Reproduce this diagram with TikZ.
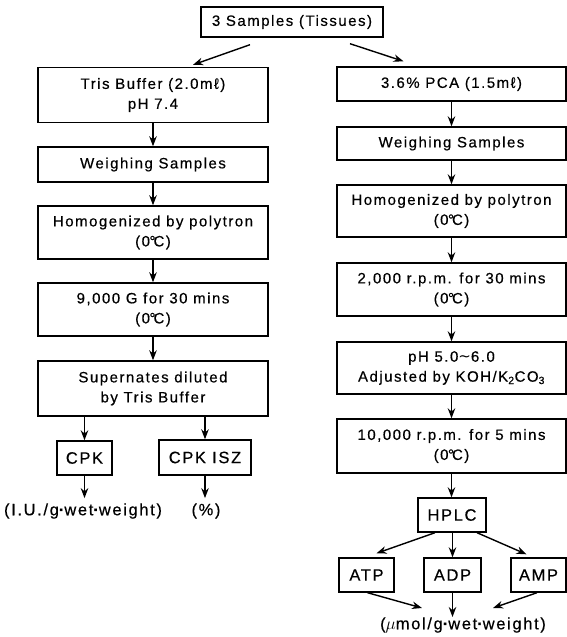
\documentclass[tikz,border=0pt]{standalone}
\usepackage{fontspec}
\setmainfont{Liberation Sans}[LetterSpace=10,FakeBold=0.4]
\newfontfamily\wavefont{DejaVu Sans}
\usetikzlibrary{arrows.meta,calc}
\newcommand{\degC}{\kern-0.5pt°\kern-2ptC}
\newcommand{\mdot}{{\bfseries ·}}
\begin{document}
\begin{tikzpicture}[x=1pt,y=-1pt,
  box/.style={draw, line width=1.4pt, inner sep=0pt, align=center, font=\fontsize{15}{20}\selectfont},
  lbl/.style={inner sep=0pt, font=\fontsize{16.5}{20}\selectfont},
  lbox/.style={box, font=\fontsize{16.5}{20}\selectfont},
  arr/.style={-{Stealth[length=10pt,width=7.5pt]}, line width=1.4pt},
]
\useasboundingbox (0,0) rectangle (567,637);
% top
\node[box, minimum width=182pt, minimum height=30pt] (top) at (292,22) {3 Samples (Tissues)};
% left column
\node[box, minimum width=230pt, minimum height=55pt] (L1) at (153,95) {Tris Buffer (2.0mℓ)\\pH 7.4};
\node[box, minimum width=230pt, minimum height=35pt] (L2) at (153,164.5) {Weighing Samples};
\node[box, minimum width=230pt, minimum height=53pt] (L3) at (153,232.5) {Homogenized by polytron\\(0\degC)};
\node[box, minimum width=230pt, minimum height=53pt] (L4) at (153,309.5) {9,000 G for 30 mins\\(0\degC)};
\node[box, minimum width=230pt, minimum height=55pt] (L5) at (153,388.5) {Supernates diluted\\by Tris Buffer};
\node[lbox, minimum width=55pt, minimum height=34pt] (CPK) at (84.5,458) {CPK};
\node[lbox, minimum width=92pt, minimum height=35pt] (CPKISZ) at (205,457.5) {CPK ISZ};
\node[lbl] (lab1) at (83,511) {(I.U./g\mdot wet\mdot weight)};
\node[lbl] (lab2) at (206,511) {(\%)};
% right column
\node[box, minimum width=229pt, minimum height=34pt] (R1) at (451.5,84) {3.6\% PCA (1.5mℓ)};
\node[box, minimum width=229pt, minimum height=33pt] (R2) at (451.5,143.5) {Weighing Samples};
\node[box, minimum width=229pt, minimum height=52pt] (R3) at (451.5,211) {Homogenized by polytron\\(0\degC)};
\node[box, minimum width=229pt, minimum height=53pt] (R4) at (451.5,289.5) {2,000 r.p.m. for 30 mins\\(0\degC)};
\node[box, minimum width=229pt, minimum height=52pt] (R5) at (451.5,368) {pH 5.0{\wavefont ∼}6.0\\Adjusted by KOH/K\textsubscript{2}CO\textsubscript{3}};
\node[box, minimum width=229pt, minimum height=54pt] (R6) at (451.5,446) {10,000 r.p.m. for 5 mins\\(0\degC)};
\node[lbox, minimum width=68pt, minimum height=34pt] (HPLC) at (452,515) {HPLC};
\node[lbox, minimum width=55pt, minimum height=34pt] (ATP) at (366.5,575) {ATP};
\node[lbox, minimum width=57pt, minimum height=34pt] (ADP) at (452.5,575) {ADP};
\node[lbox, minimum width=55pt, minimum height=34pt] (AMP) at (538.5,575) {AMP};
\node[lbl] (lab3) at (463,625) {($\mu$mol/g\mdot wet\mdot weight)};
% connectors
\draw[arr] ($(top.south)+(-42,7)$) -- ($(L1.north)+(40,-2)$);
\draw[arr] ($(top.south)+(58,6)$) -- ($(R1.north)+(-48,-5)$);
\draw[arr] (L1) -- (L2);
\draw[arr] (L2) -- (L3);
\draw[arr] (L3) -- (L4);
\draw[arr] (L4) -- (L5);
\draw[arr] (CPK.north |- L5.south) -- (CPK.north);
\draw[arr] (CPKISZ.north |- L5.south) -- (CPKISZ.north);
\draw[arr, shorten >=5pt] (CPK.south) -- (CPK.south |- lab1.north);
\draw[arr, shorten >=5pt] (CPKISZ.south) -- (CPKISZ.south |- lab2.north);
\draw[arr] (R1) -- (R2);
\draw[arr] (R2) -- (R3);
\draw[arr] (R3) -- (R4);
\draw[arr] (R4) -- (R5);
\draw[arr] (R5) -- (R6);
\draw[arr] (R6.south) -- (R6.south |- HPLC.north);
\draw[arr] ($(HPLC.south)+(-17,0)$) -- ($(ATP.north)+(10,-4)$);
\draw[arr] (HPLC.south -| ADP.north) -- (ADP.north);
\draw[arr] ($(HPLC.south)+(25,0)$) -- ($(AMP.north)+(-12,-3)$);
\draw[arr] ($(ATP.south)+(1,0)$) -- ($(lab3.center)+(-41,-17)$);
\draw[arr] (ADP.south) -- ($(lab3.center)+(-10.5,-8)$);
\draw[arr] ($(AMP.south)+(-1.5,0)$) -- ($(lab3.center)+(30,-17)$);
\end{tikzpicture}
\end{document}
